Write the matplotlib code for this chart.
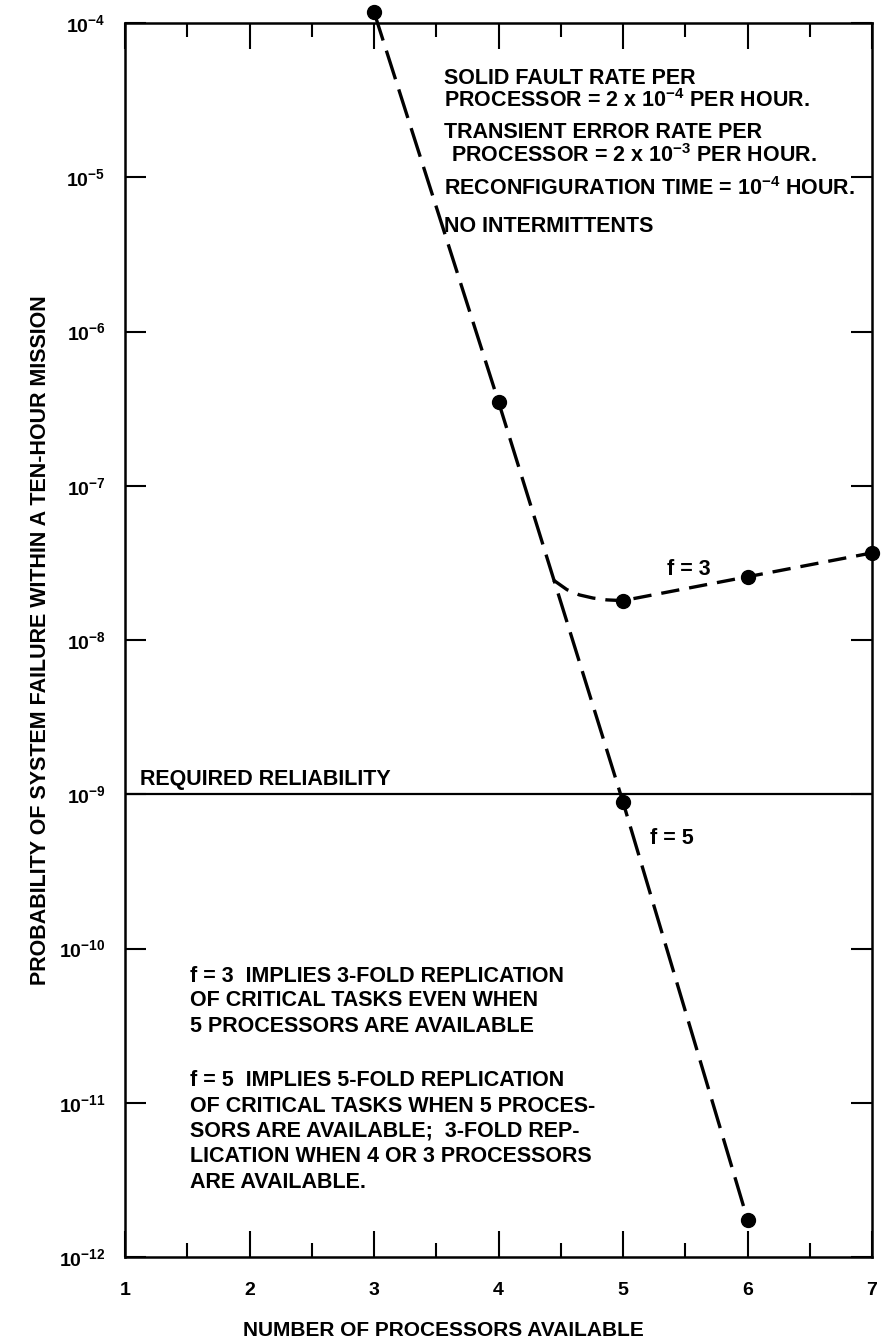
import matplotlib
matplotlib.use("Agg")
import matplotlib.pyplot as plt
import matplotlib.ticker as mticker

plt.rcParams['font.family'] = ['Liberation Sans', 'DejaVu Sans']
plt.rcParams['mathtext.fontset'] = 'custom'
plt.rcParams['mathtext.rm'] = 'Liberation Sans:bold'
plt.rcParams['mathtext.it'] = 'Liberation Sans:bold'
plt.rcParams['mathtext.bf'] = 'Liberation Sans:bold'
plt.rcParams['mathtext.default'] = 'rm'

# ---- data ----
f5_x = [3, 4, 5, 6]
f5_y = [1.18e-4, 3.5e-7, 8.9e-10, 1.75e-12]
f3_curve_x = [4.44, 4.55, 4.65, 4.76, 4.87, 5, 6, 7]
f3_curve_y = [2.45e-8, 2.12e-8, 1.96e-8, 1.87e-8, 1.82e-8, 1.8e-8, 2.57e-8, 3.67e-8]
f3_pts_x = [5, 6, 7]
f3_pts_y = [1.8e-8, 2.57e-8, 3.67e-8]
required = 1e-9
x_ticks = [1, 2, 3, 4, 5, 6, 7]
x_minor = [1.5, 2.5, 3.5, 4.5, 5.5, 6.5]
x_ticklabels = ['1', '2', '3', '4', '5', '6', '7']
y_exponents = [-12, -11, -10, -9, -8, -7, -6, -5, -4]
y_ticklabels = [r'$10^{%d}$' % e for e in y_exponents]

W, H = 883, 1343
fig = plt.figure(figsize=(W / 100, H / 100), dpi=100)
ax = fig.add_axes([125 / W, (H - 1257) / H, (872 - 125) / W, (1257 - 23) / H])
ax.set_yscale('log')
ax.set_xlim(1, 7)
ax.set_ylim(1e-12, 1e-4)

# lines
ax.plot(f5_x, f5_y, color='black', lw=2.4, dashes=(9, 3.2), clip_on=False,
        dash_capstyle='butt')
ax.plot(f3_curve_x, f3_curve_y, color='black', lw=2.4, dashes=(5.5, 3),
        clip_on=False, dash_capstyle='butt', solid_joinstyle='round')
ax.plot(f5_x, f5_y, 'o', color='black', ms=10, clip_on=False, zorder=5)
ax.plot(f3_pts_x, f3_pts_y, 'o', color='black', ms=10, clip_on=False, zorder=5)

ax.axhline(required, color='black', lw=1.6)

# spines and ticks
for s in ax.spines.values():
    s.set_linewidth(1.8)
ax.set_xticks(x_ticks)
ax.set_xticklabels(x_ticklabels, fontsize=14, fontweight='bold')
ax.set_xticks(x_minor, minor=True)
ax.set_yticks([10.0 ** e for e in y_exponents])
ax.set_yticklabels(y_ticklabels, fontsize=14)
ax.yaxis.set_minor_locator(mticker.NullLocator())
ax.tick_params(axis='x', which='major', direction='in', length=19, width=1.5,
               top=True, bottom=True, pad=18)
ax.tick_params(axis='x', which='minor', direction='in', length=10, width=1.5,
               top=True, bottom=True)
ax.tick_params(axis='y', which='major', direction='in', length=15, width=1.5,
               left=True, right=True, pad=14)

ax.set_ylabel('PROBABILITY OF SYSTEM FAILURE WITHIN A TEN-HOUR MISSION',
              fontsize=15.5, fontweight='bold', labelpad=6)


def px(x, y):
    # convert pixel coords (from top-left) to figure fraction
    return x / W, 1 - y / H


fig.text(*px(443, 1330), 'NUMBER OF PROCESSORS AVAILABLE', fontsize=15,
         fontweight='bold', ha='center', va='center')

tk = dict(fontsize=15.5, fontweight='bold', ha='left', va='center')
lines_top = [
    (444, 78, 'SOLID FAULT RATE PER'),
    (444, 101, r'PROCESSOR = 2 x $10^{-4}$ PER HOUR.'),
    (444, 132, 'TRANSIENT ERROR RATE PER'),
    (451, 156, r'PROCESSOR = 2 x $10^{-3}$ PER HOUR.'),
    (444, 189, r'RECONFIGURATION TIME = $10^{-4}$ HOUR.'),
    (444, 226, 'NO INTERMITTENTS'),
]
for x, y, t in lines_top:
    fig.text(*px(x, y), t, **tk)

fig.text(*px(140, 780), 'REQUIRED RELIABILITY', **tk)
fig.text(*px(667, 570), 'f = 3', **tk)
fig.text(*px(650, 838), 'f = 5', **tk)

lines_bot = [
    (190, 976, 'f = 3  IMPLIES 3-FOLD REPLICATION'),
    (190, 1001, 'OF CRITICAL TASKS EVEN WHEN'),
    (190, 1027, '5 PROCESSORS ARE AVAILABLE'),
    (190, 1080, 'f = 5  IMPLIES 5-FOLD REPLICATION'),
    (190, 1106, 'OF CRITICAL TASKS WHEN 5 PROCES-'),
    (190, 1131, 'SORS ARE AVAILABLE;  3-FOLD REP-'),
    (190, 1157, 'LICATION WHEN 4 OR 3 PROCESSORS'),
    (190, 1182, 'ARE AVAILABLE.'),
]
for x, y, t in lines_bot:
    fig.text(*px(x, y), t, **tk)

fig.savefig('out.png', dpi=100)
